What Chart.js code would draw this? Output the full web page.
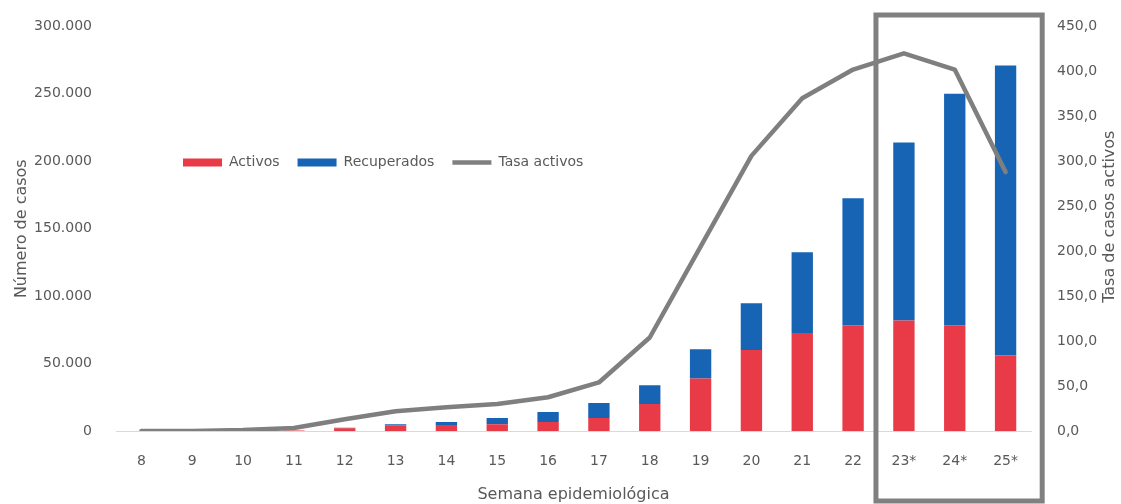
<!DOCTYPE html>
<html>
<head>
<meta charset="utf-8">
<script src="https://cdn.jsdelivr.net/npm/chart.js@4"></script>
<style>
  body { margin: 0; background: #fff; }
  #wrap { width: 1121px; height: 504px; position: relative; }
</style>
</head>
<body>
<div id="wrap"><canvas id="casos"></canvas></div>
<script>
const semanas = ['8', '9', '10', '11', '12', '13', '14', '15', '16', '17', '18', '19', '20', '21', '22', '23*', '24*', '25*'];
const activos = [0, 0, 0, 300, 2000, 4300, 4400, 5000, 6700, 9600, 20000, 39000, 60000, 72600, 78500, 82000, 78500, 56000];
const recuperados = [0, 0, 0, 0, 500, 700, 2300, 4600, 7300, 11100, 14000, 21700, 34800, 60000, 94100, 132000, 171500, 215000];
const tasaActivos = [0, 0, 1, 3.3, 13, 22, 26.5, 30, 37.5, 54, 104, 205, 306, 370, 402, 420, 402, 288];
const ticksCasos = [0, 50000, 100000, 150000, 200000, 250000, 300000];
const ticksTasa = [0, 50, 100, 150, 200, 250, 300, 350, 400, 450];

const gris = '#595959';
const fuente = { family: 'DejaVu Sans', size: 14 };
const fuenteTitulo = { family: 'DejaVu Sans', size: 16 };

// the legend sits inside the plot, in one row, left of the middle
const moverLeyenda = {
    id: 'moverLeyenda',
    beforeUpdate(chart) {
        if (chart.legend) chart.legend.isHorizontal = () => true;
    },
    afterUpdate(chart) {
        const l = chart.legend;
        const pad = l.options.labels.padding;
        l.left = 183 - pad; l.right = l.left + 700;
        l.top = 137.5; l.bottom = l.top + 40;
    }
};

// right axis title reads bottom-to-top like the left one, and the grey frame round the last weeks
const extras = {
    id: 'extras',
    afterDraw(chart) {
        const x = chart.scales.x, y1 = chart.scales.y1, ctx = chart.ctx;
        const w = x.getPixelForValue(1) - x.getPixelForValue(0);
        const left = x.getPixelForValue(semanas.indexOf('23*')) - w * 0.55;
        const right = x.getPixelForValue(semanas.length - 1) + w * 0.72;
        ctx.save();
        ctx.strokeStyle = '#808080'; ctx.lineWidth = 5;
        ctx.strokeRect(left, 15, right - left, 486);
        ctx.restore();

        ctx.save();
        ctx.translate(y1.right - 11, (chart.chartArea.top + chart.chartArea.bottom) / 2 - 12);
        ctx.rotate(-Math.PI / 2);
        ctx.font = `${fuenteTitulo.size}px "${fuenteTitulo.family}"`;
        ctx.fillStyle = gris; ctx.textAlign = 'center'; ctx.textBaseline = 'middle';
        ctx.fillText(y1.options.title.text, 0, 0);
        ctx.restore();
    }
};

const miles = v => String(v).replace(/\B(?=(\d{3})+(?!\d))/g, '.');

new Chart(document.getElementById('casos'), {
    data: {
        labels: semanas,
        datasets: [
            { type: 'line', label: 'Tasa activos', data: tasaActivos, yAxisID: 'y1', order: 0,
              borderColor: '#7f7f7f', backgroundColor: '#7f7f7f', borderWidth: 4.5, borderCapStyle: 'round',
              borderJoinStyle: 'round', pointRadius: 0, tension: 0, pointStyle: 'line' },
            { type: 'bar', label: 'Activos', data: activos, yAxisID: 'y', order: 1,
              backgroundColor: '#e83a47', pointStyle: 'rect', barPercentage: 0.42, categoryPercentage: 1 },
            { type: 'bar', label: 'Recuperados', data: recuperados, yAxisID: 'y', order: 1,
              backgroundColor: '#1764b5', pointStyle: 'rect', barPercentage: 0.42, categoryPercentage: 1 }
        ]
    },
    options: {
        responsive: true, maintainAspectRatio: false, animation: false,
        layout: { padding: { top: 26, left: 0, right: 0, bottom: 0 } },
        plugins: {
            tooltip: { enabled: false },
            legend: {
                position: 'chartArea', align: 'start',
                labels: {
                    usePointStyle: true, pointStyleWidth: 39, boxHeight: 8, padding: 18,
                    color: gris, font: fuente,
                    sort: (a, b) => {
                        const orden = ['Activos', 'Recuperados', 'Tasa activos'];
                        return orden.indexOf(a.text) - orden.indexOf(b.text);
                    }
                }
            }
        },
        scales: {
            x: {
                stacked: true,
                grid: { display: false },
                border: { display: true, color: '#d9d9d9', width: 1 },
                ticks: { color: gris, font: fuente, padding: 14 },
                title: { display: true, text: 'Semana epidemiológica', color: gris,
                         font: fuenteTitulo, padding: { top: -3, bottom: 0 } },
                afterFit: s => { s.height = 73; }
            },
            y: {
                stacked: true, position: 'left', min: 0, max: 300000,
                grid: { display: false }, border: { display: false },
                afterBuildTicks: s => { s.ticks = ticksCasos.map(v => ({ value: v })); },
                ticks: { color: gris, font: fuente, padding: 16, callback: v => miles(v) },
                title: { display: true, text: 'Número de casos', color: gris,
                         font: fuenteTitulo, padding: { top: 12, bottom: 0 } },
                afterFit: s => { s.width = 116; }
            },
            y1: {
                position: 'right', min: 0, max: 450,
                grid: { display: false }, border: { display: false },
                afterBuildTicks: s => { s.ticks = ticksTasa.map(v => ({ value: v })); },
                ticks: { color: gris, font: fuente, padding: 18, callback: v => v.toFixed(1).replace('.', ',') },
                title: { display: false, text: 'Tasa de casos activos' },
                afterFit: s => { s.width = 90; }
            }
        }
    },
    plugins: [moverLeyenda, extras]
});
</script>
</body>
</html>
